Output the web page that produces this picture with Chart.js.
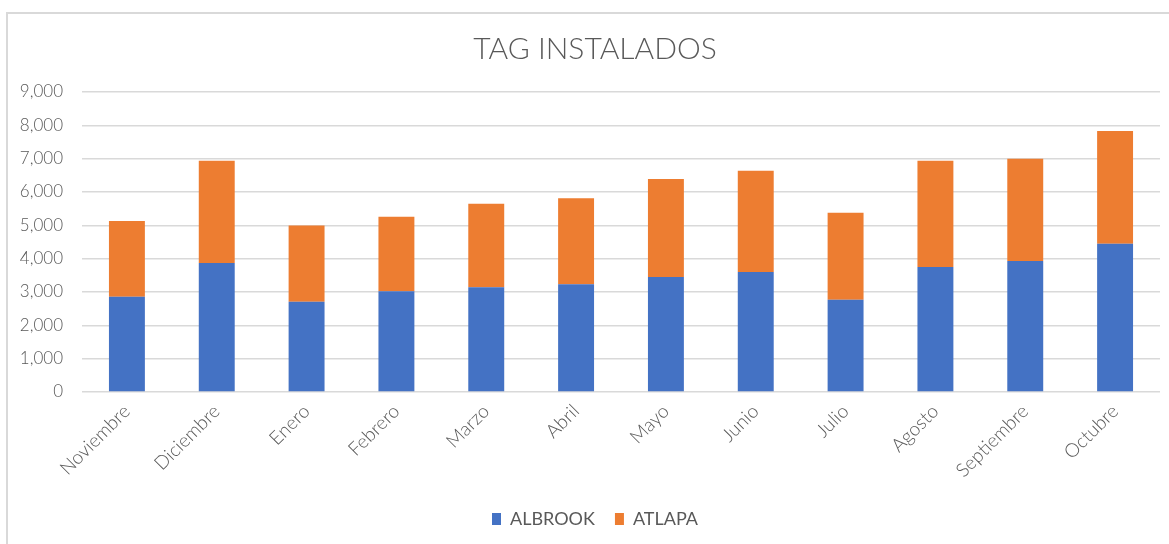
<!DOCTYPE html>
<html>
<head>
<meta charset="utf-8">
<script src="https://cdn.jsdelivr.net/npm/chart.js@4"></script>
<style>
  html, body { margin: 0; padding: 0; background: #fff; }
  #wrap { position: relative; width: 1169px; height: 544px; overflow: hidden; }
  #frame { position: absolute; left: 6px; top: 12px; width: 1200px; height: 600px; border-left: 2px solid #d9d9d9; border-top: 2px solid #d9d9d9; }
  canvas { position: absolute; left: 0; top: 0; }
</style>
</head>
<body>
<div id="wrap">
  <div id="frame"></div>
  <canvas id="myChart" width="1190" height="544"></canvas>
</div>
<script>
// Datos
var meses = ['Noviembre', 'Diciembre', 'Enero', 'Febrero', 'Marzo', 'Abril', 'Mayo', 'Junio', 'Julio', 'Agosto', 'Septiembre', 'Octubre'];
var albrook = [2860, 3870, 2710, 3020, 3140, 3230, 3450, 3600, 2770, 3750, 3930, 4450];
var atlapa = [2270, 3070, 2285, 2235, 2510, 2580, 2940, 3040, 2610, 3190, 3070, 3380];
var yTicks = [0, 1000, 2000, 3000, 4000, 5000, 6000, 7000, 8000, 9000];

var gris = '#595959';
var fuente = 'Lato, "Open Sans", sans-serif';

var ctx = document.getElementById('myChart').getContext('2d');
var chart = new Chart(ctx, {
  type: 'bar',
  data: {
    labels: meses,
    datasets: [{
      label: 'ALBROOK',
      data: albrook,
      backgroundColor: '#4472C4',
      categoryPercentage: 0.8,
      barPercentage: 0.5
    }, {
      label: 'ATLAPA',
      data: atlapa,
      backgroundColor: '#ED7D31',
      categoryPercentage: 0.8,
      barPercentage: 0.5
    }]
  },
  options: {
    responsive: false,
    animation: false,
    layout: { padding: { left: 0, right: 0, top: 0, bottom: 6 } },
    plugins: {
      title: {
        display: true,
        text: 'TAG INSTALADOS',
        color: gris,
        font: { family: fuente, size: 30, weight: 300 },
        padding: { top: 31, bottom: 25 }
      },
      legend: {
        position: 'bottom',
        labels: {
          color: gris,
          boxWidth: 9,
          boxHeight: 12,
          padding: 20,
          font: { family: fuente, size: 18 }
        }
      },
      tooltip: { enabled: false }
    },
    scales: {
      x: {
        stacked: true,
        grid: { display: false, drawTicks: false },
        border: { display: false },
        ticks: {
          color: gris,
          font: { family: fuente, size: 19, weight: 300 },
          maxRotation: 45,
          minRotation: 45,
          padding: 8
        },
        afterFit: function (scale) { scale.height = 98; }
      },
      y: {
        stacked: true,
        min: 0,
        max: 9000,
        afterBuildTicks: function (scale) {
          scale.ticks = yTicks.map(function (v) { return { value: v }; });
        },
        grid: { color: '#d9d9d9', lineWidth: 1.5, drawTicks: false },
        border: { display: false },
        ticks: {
          color: gris,
          font: { family: fuente, size: 17, weight: 300 },
          padding: 19,
          callback: function (v) { return v.toLocaleString('en-US'); }
        },
        afterFit: function (scale) { scale.width = 82; }
      },
      // eje vacío a la derecha, solo para reservar margen
      margen: {
        type: 'linear',
        position: 'right',
        grid: { display: false, drawTicks: false },
        border: { display: false },
        ticks: { display: false },
        afterFit: function (scale) { scale.width = 30; }
      }
    }
  }
});
</script>
</body>
</html>
